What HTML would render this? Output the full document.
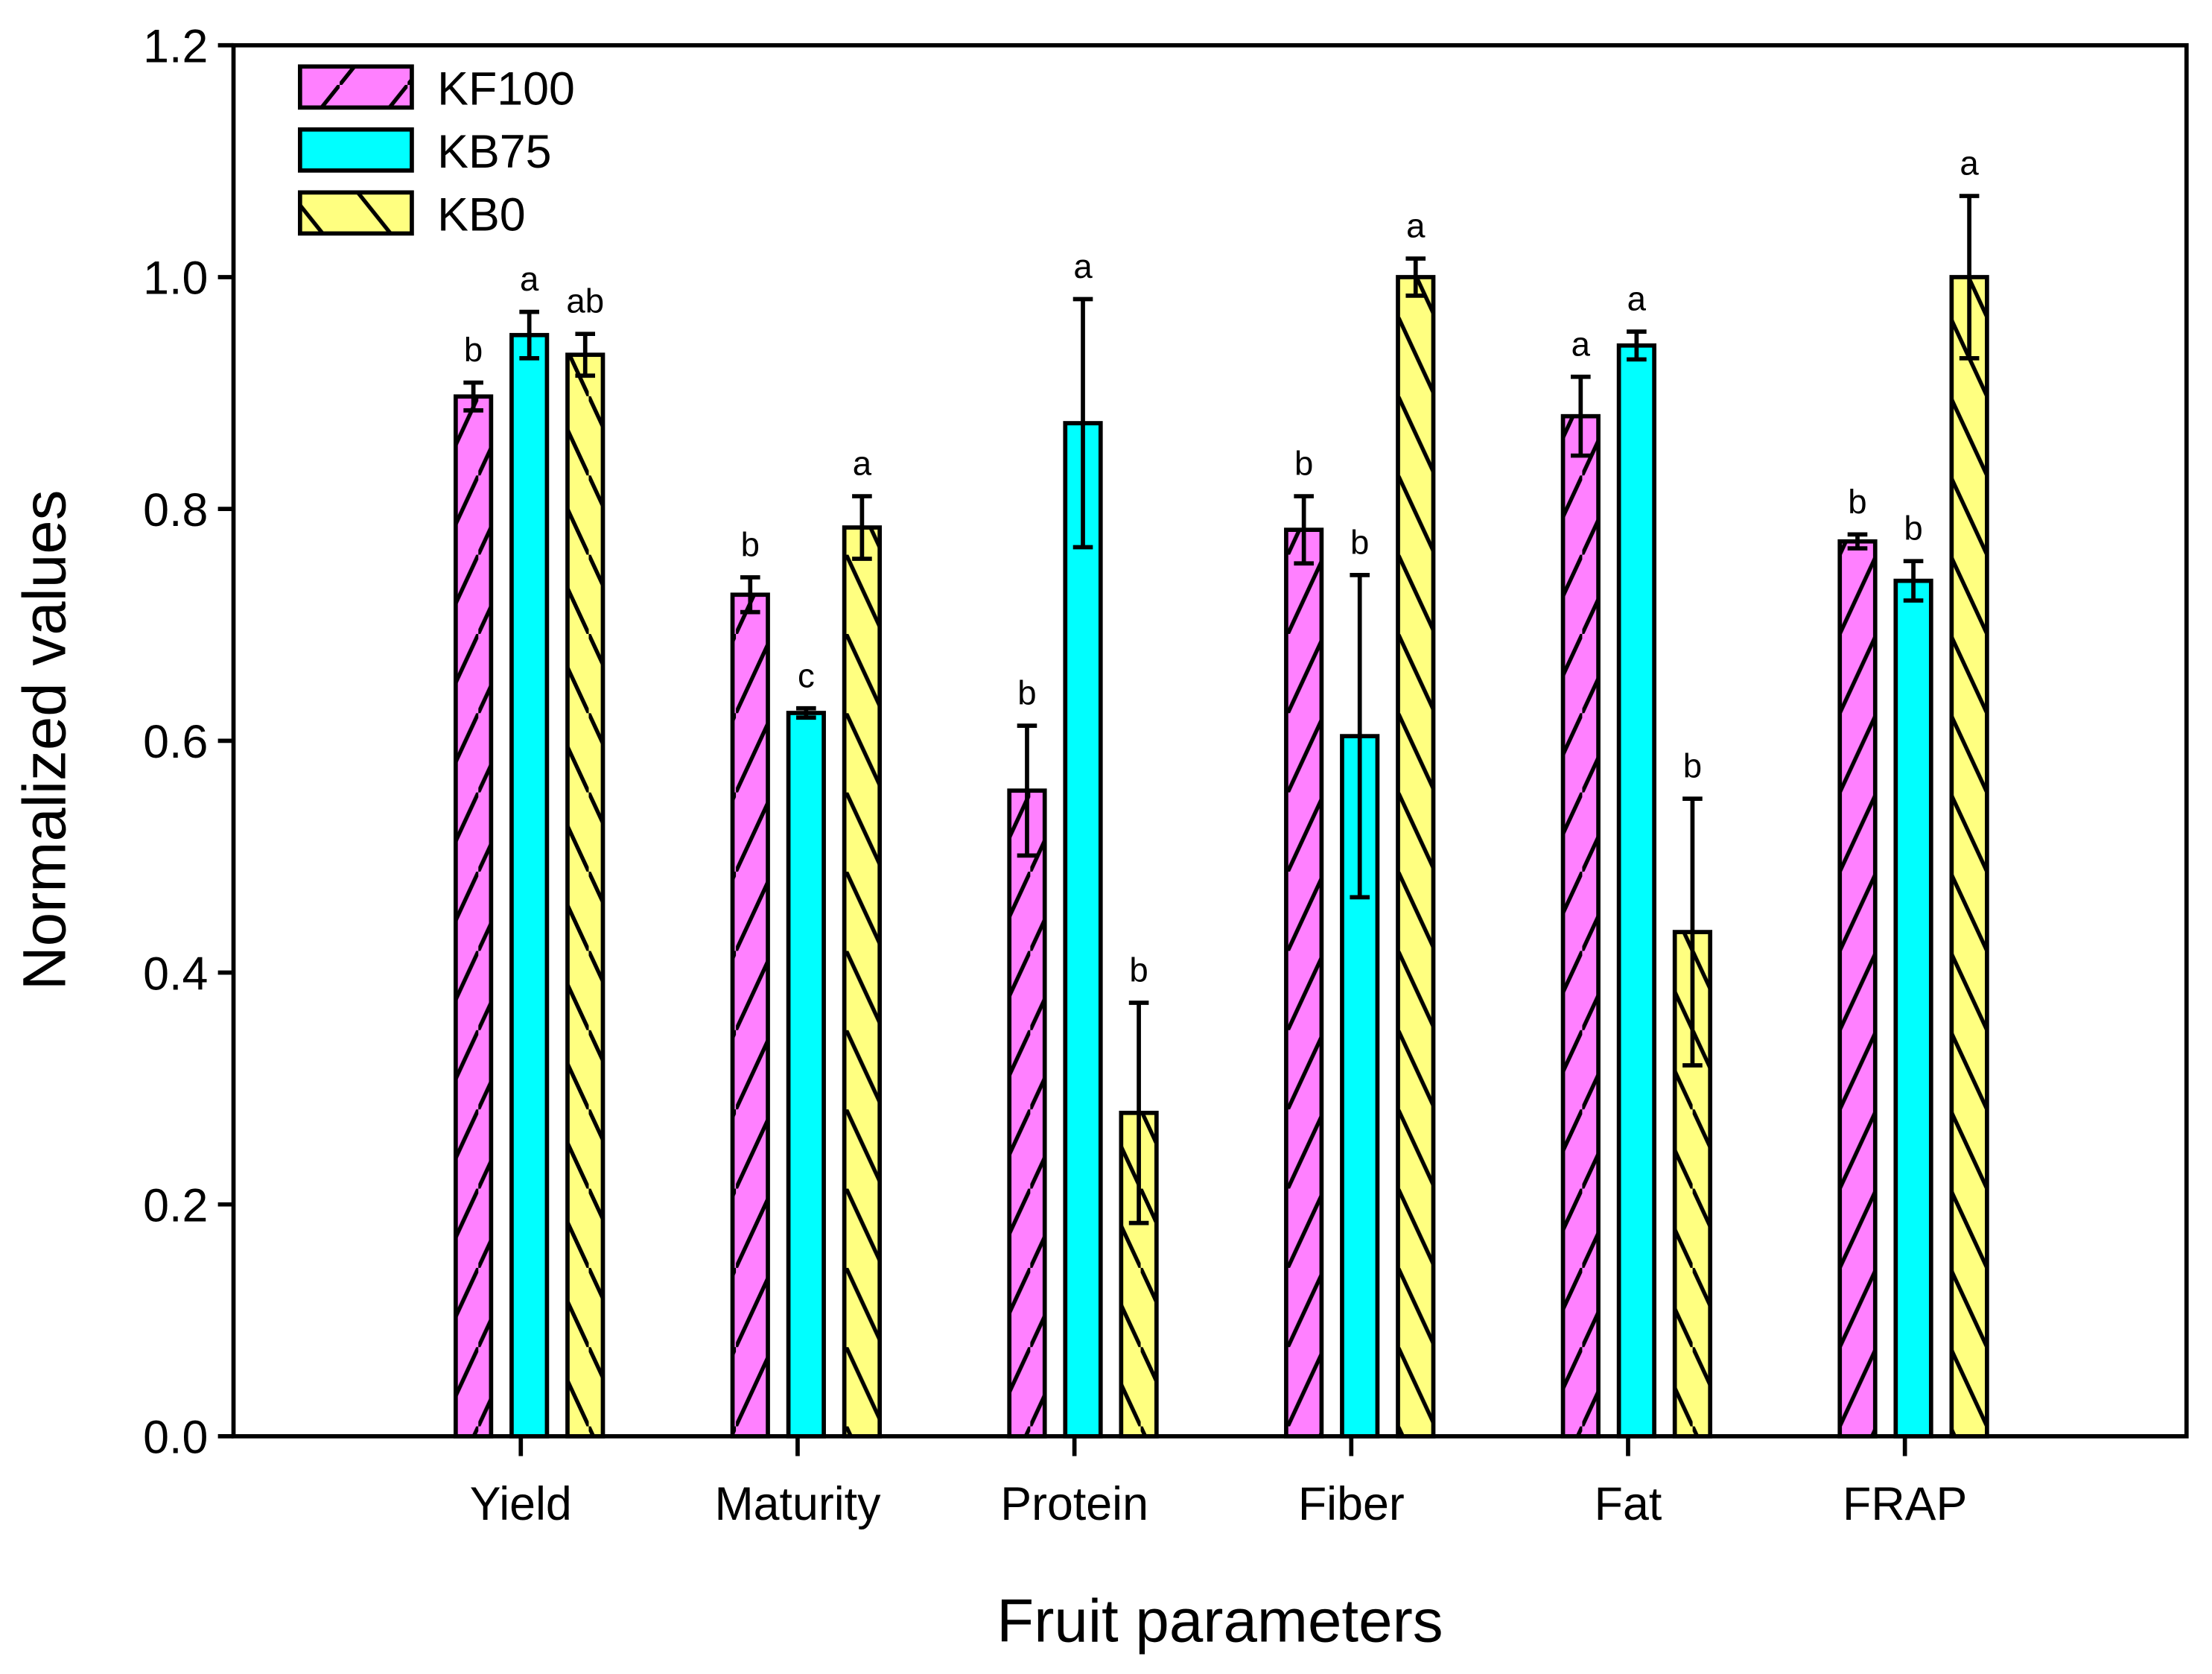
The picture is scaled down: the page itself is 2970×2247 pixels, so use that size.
<!DOCTYPE html>
<html><head><meta charset="utf-8"><style>
html,body{margin:0;padding:0;background:#fff;}
svg{display:block;}
text{font-family:"Liberation Sans",Arial,sans-serif;fill:#000;}
</style></head><body>
<svg id="chart" width="2970" height="2247" viewBox="0 0 1563 1183" preserveAspectRatio="none" xmlns="http://www.w3.org/2000/svg">
<defs>
<pattern id="hatchF" patternUnits="userSpaceOnUse" width="26" height="56">
<rect width="26" height="56" fill="#ff80ff"/>
<line x1="0" y1="56" x2="26" y2="0" stroke="#000" stroke-width="2.8"/>
</pattern>
<pattern id="hatchB" patternUnits="userSpaceOnUse" width="26" height="56">
<rect width="26" height="56" fill="#ffff80"/>
<line x1="0" y1="0" x2="26" y2="56" stroke="#000" stroke-width="2.8"/>
</pattern>
<pattern id="legF" patternUnits="userSpaceOnUse" width="48" height="60">
<rect width="48" height="60" fill="#ff80ff"/>
<line x1="0" y1="60" x2="48" y2="0" stroke="#000" stroke-width="2.8"/>
</pattern>
<pattern id="legB" patternUnits="userSpaceOnUse" width="48" height="60">
<rect width="48" height="60" fill="#ffff80"/>
<line x1="0" y1="0" x2="48" y2="60" stroke="#000" stroke-width="2.8"/>
</pattern>
</defs>
<g id="plot"></g>
</svg>
<script>
const categories = ["Yield","Maturity","Protein","Fiber","Fat","FRAP"];
const seriesNames = ["KF100","KB75","KB0"];
const kf100 = [0.897,0.726,0.557,0.782,0.880,0.772];
const kb75  = [0.950,0.624,0.874,0.604,0.941,0.738];
const kb0   = [0.933,0.784,0.279,1.000,0.435,1.000];
const kf100Err = [0.012,0.015,0.056,0.029,0.034,0.006];
const kb75Err  = [0.020,0.004,0.107,0.139,0.012,0.017];
const kb0Err   = [0.018,0.027,0.095,0.016,0.115,0.070];
const kf100Let = ["b","b","b","b","a","b"];
const kb75Let  = ["a","c","a","b","a","b"];
const kb0Let   = ["ab","a","b","a","b","a"];
const yTicks = [0,0.2,0.4,0.6,0.8,1.0,1.2];

const NS="http://www.w3.org/2000/svg";
const g=document.getElementById('plot');
const L=165,R=1545,T=32,B=1015;
const yScale=v=>B-(v/1.2)*(B-T);
const xCenter=i=>374+i*195.6;
const fills=["url(#hatchF)","#00ffff","url(#hatchB)"];
const legFills=["url(#legF)","#00ffff","url(#legB)"];
const vals=[kf100,kb75,kb0], errs=[kf100Err,kb75Err,kb0Err], lets=[kf100Let,kb75Let,kb0Let];
function mk(tag,attrs,parent){const e=document.createElementNS(NS,tag);for(const k in attrs)e.setAttribute(k,attrs[k]);(parent||g).appendChild(e);return e;}

const frame=mk('rect',{x:L,y:T,width:R-L,height:B-T,fill:'none',stroke:'#000','stroke-width':3});



yTicks.forEach(v=>{
  const y=yScale(v);
  const t=mk('line',{x1:L-11,y1:y,x2:L,y2:y,stroke:'#000','stroke-width':3});
  
  
  const lb=mk('text',{x:L-18,y:y+12,'text-anchor':'end','font-size':33});
  lb.textContent=v.toFixed(1);
  
  
});

categories.forEach((c,i)=>{
  const cx=xCenter(i);
  const tk=mk('line',{x1:cx-6,y1:B,x2:cx-6,y2:B+14,stroke:'#000','stroke-width':3});
  
  
  const cl=mk('text',{x:cx-6,y:1074,'text-anchor':'middle','font-size':33});
  cl.textContent=c;
  
  
  for(let s=0;s<3;s++){
    const bx=cx+(s-1)*39.5-12.5, v=vals[s][i];
    const y=yScale(v);
    const r=mk('rect',{x:bx,y:y,width:25,height:B-y,fill:fills[s],stroke:'#000','stroke-width':3});
    
    
    const e=errs[s][i], yt=yScale(v+e), yb=yScale(v-e), mx=bx+12.5;
    const eb=mk('path',{d:`M${mx} ${yt}V${yb}M${mx-7} ${yt}H${mx+7}M${mx-7} ${yb}H${mx+7}`,stroke:'#000','stroke-width':3,fill:'none'});
    
    
    const lt=mk('text',{x:mx,y:yt-15,'text-anchor':'middle','font-size':24});
    lt.textContent=lets[s][i];
    
    
  }
});

seriesNames.forEach((n,s)=>{
  const y=47+s*44.5;
  const r=mk('rect',{x:212,y:y,width:79,height:29,fill:legFills[s],stroke:'#000','stroke-width':3});
  
  
  const t=mk('text',{x:309,y:y+27,'font-size':33});
  t.textContent=n;
  
  
});

const yt=mk('text',{x:0,y:0,'text-anchor':'middle','font-size':43,transform:'translate(46,523) rotate(-90)'});
yt.textContent='Normalized values';


const xt=mk('text',{x:862,y:1160,'text-anchor':'middle','font-size':43});
xt.textContent='Fruit parameters';


</script>
</body></html>
